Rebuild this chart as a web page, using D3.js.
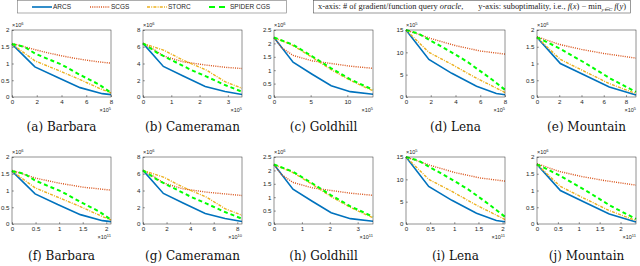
<!DOCTYPE html>
<html>
<head>
<meta charset="utf-8">
<script src="https://cdn.jsdelivr.net/npm/d3@7"></script>
<style>
  html, body { margin: 0; padding: 0; background: #fff; }
  svg { display: block; }
  .tick text { font-family: "Liberation Sans", Arial, sans-serif; font-size: 6.2px; fill: #262626; }
  .tick line { stroke: #262626; stroke-width: 0.5; }
</style>
</head>
<body>
<div id="chart"></div>
<script>
// panel order: Barbara, Cameraman, Goldhill, Lena, Mountain (iterations), then the same five (oracle calls)
const captions = ['(a) Barbara', '(b) Cameraman', '(c) Goldhill', '(d) Lena', '(e) Mountain',
                  '(f) Barbara', '(g) Cameraman', '(h) Goldhill', '(i) Lena', '(j) Mountain'];
const xMax = [8, 3.5, 13.5, 8, 8.9, 2.1, 8.4, 3.55, 2.05, 2.37];
const xTicks = [[0, 2, 4, 6, 8], [0, 1, 2, 3], [0, 5, 10], [0, 2, 4, 6, 8], [0, 2, 4, 6, 8],
                [0, 0.5, 1, 1.5, 2], [0, 2, 4, 6, 8], [0, 1, 2, 3], [0, 0.5, 1, 1.5, 2], [0, 0.5, 1, 1.5, 2]];
const xExp = [5, 5, 5, 5, 5, 11, 10, 11, 11, 11];
const yMax = [2, 8, 2.5, 15, 2, 2, 8, 2.5, 15, 2];
const yTicks = [[0, 0.5, 1, 1.5, 2], [0, 2, 4, 6, 8], [0, 0.5, 1, 1.5, 2, 2.5], [0, 5, 10, 15], [0, 0.5, 1, 1.5, 2],
                [0, 0.5, 1, 1.5, 2], [0, 2, 4, 6, 8], [0, 0.5, 1, 1.5, 2, 2.5], [0, 5, 10, 15], [0, 0.5, 1, 1.5, 2]];
const yExp = [6, 6, 6, 5, 6, 6, 6, 6, 5, 6];

const seriesNames = ['ARCS', 'SCGS', 'STORC', 'SPIDER CGS'];

const ARCS = [
  [[0, 1.58], [1.85, 0.9], [3.7, 0.58], [5.5, 0.28], [7.3, 0.1], [8, 0.07]],
  [[0, 6.4], [0.72, 3.65], [1.42, 2.5], [2.2, 1.25], [2.9, 0.65], [3.5, 0.3]],
  [[0, 2.22], [2.6, 1.3], [5.2, 0.85], [7.8, 0.42], [10.4, 0.2], [13.5, 0.1]],
  [[0, 15], [1.85, 8.4], [3.7, 5.3], [5.7, 2.4], [7.3, 0.8], [8, 0.5]],
  [[0, 1.78], [2.1, 1.0], [4.3, 0.65], [6.5, 0.3], [8.9, 0.06]],
  [[0, 1.58], [0.49, 0.9], [0.97, 0.58], [1.45, 0.28], [1.92, 0.1], [2.1, 0.07]],
  [[0, 6.4], [1.73, 3.65], [3.4, 2.5], [5.28, 1.25], [6.96, 0.65], [8.4, 0.3]],
  [[0, 2.22], [0.68, 1.3], [1.37, 0.85], [2.05, 0.42], [2.74, 0.2], [3.55, 0.1]],
  [[0, 15], [0.47, 8.4], [0.95, 5.3], [1.46, 2.4], [1.87, 0.8], [2.05, 0.5]],
  [[0, 1.78], [0.56, 1.0], [1.14, 0.65], [1.73, 0.3], [2.37, 0.06]]
];
const SCGS = [
  [[0, 1.6], [1, 1.5], [2, 1.4], [3, 1.31], [4, 1.23], [5, 1.16], [6, 1.1], [7, 1.05], [8, 1.01]],
  [[0, 6.4], [0.42, 5.6], [0.72, 4.9], [1.42, 4.2], [2.25, 3.8], [2.9, 3.55], [3.5, 3.4]],
  [[0, 2.22], [1, 1.85], [2.6, 1.55], [5.2, 1.35], [7.8, 1.25], [10.4, 1.15], [13.5, 1.07]],
  [[0, 15], [2, 13.1], [4, 11.5], [6, 10.3], [8, 9.6]],
  [[0, 1.8], [2, 1.57], [4, 1.42], [6, 1.3], [8.9, 1.16]],
  [[0, 1.6], [0.5, 1.37], [1, 1.22], [1.5, 1.1], [2.1, 1.01]],
  [[0, 6.4], [1.0, 5.6], [1.73, 4.9], [3.4, 4.2], [5.4, 3.8], [8.4, 3.4]],
  [[0, 2.22], [0.26, 1.85], [0.68, 1.55], [1.37, 1.35], [2.05, 1.25], [2.74, 1.15], [3.55, 1.07]],
  [[0, 15], [0.51, 13.1], [1.02, 11.5], [1.54, 10.3], [2.05, 9.6]],
  [[0, 1.8], [0.53, 1.57], [1.06, 1.42], [1.6, 1.3], [2.37, 1.16]]
];
const STORC = [
  [[0, 1.58], [1.85, 1.08], [3.7, 0.8], [5.5, 0.52], [7.3, 0.22], [8, 0.12]],
  [[0, 6.4], [0.72, 5.6], [1.42, 4.4], [2.25, 3.2], [2.9, 1.83], [3.5, 1.04]],
  [[0, 2.22], [2.6, 1.92], [5.2, 1.48], [7.8, 1.02], [10.4, 0.62], [13.5, 0.23]],
  [[0, 15], [1.85, 10.0], [3.7, 7.3], [5.7, 4.2], [7.3, 2.0], [8, 1.0]],
  [[0, 1.78], [2.1, 1.12], [4.3, 0.76], [6.5, 0.4], [8.9, 0.1]],
  [[0, 1.58], [0.49, 1.08], [0.97, 0.8], [1.45, 0.52], [1.92, 0.22], [2.1, 0.12]],
  [[0, 6.4], [1.73, 5.6], [3.4, 4.4], [5.4, 3.2], [6.96, 1.83], [8.4, 1.04]],
  [[0, 2.22], [0.68, 1.92], [1.37, 1.48], [2.05, 1.02], [2.74, 0.62], [3.55, 0.23]],
  [[0, 15], [0.47, 10.0], [0.95, 7.3], [1.46, 4.2], [1.87, 2.0], [2.05, 1.0]],
  [[0, 1.78], [0.56, 1.12], [1.14, 0.76], [1.73, 0.4], [2.37, 0.1]]
];
const SPIDER = [
  [[0, 1.58], [1, 1.5], [1.85, 1.3], [3, 1.12], [4, 0.97], [5.5, 0.66], [7, 0.38], [8, 0.13]],
  [[0, 6.4], [0.54, 5.2], [1.72, 3.2], [2.25, 2.43], [2.9, 1.43], [3.5, 0.63]],
  [[0, 2.22], [2.6, 1.95], [5.2, 1.52], [7.8, 1.07], [10.4, 0.66], [13.5, 0.27]],
  [[0, 15], [1, 14.2], [2, 12.6], [3, 11.1], [4, 9.5], [5, 7.8], [6, 5.8], [7, 3.8], [8, 1.6]],
  [[0, 1.78], [1, 1.62], [2.2, 1.42], [4.4, 1.0], [6.6, 0.55], [8.9, 0.15]],
  [[0, 1.58], [0.26, 1.5], [0.49, 1.3], [0.79, 1.12], [1.05, 0.97], [1.45, 0.66], [1.84, 0.38], [2.1, 0.13]],
  [[0, 6.4], [1.3, 5.2], [4.13, 3.2], [5.4, 2.43], [6.96, 1.43], [8.4, 0.63]],
  [[0, 2.22], [0.68, 1.95], [1.37, 1.52], [2.05, 1.07], [2.74, 0.66], [3.55, 0.27]],
  [[0, 15], [0.26, 14.2], [0.51, 12.6], [0.77, 11.1], [1.02, 9.5], [1.28, 7.8], [1.54, 5.8], [1.79, 3.8], [2.05, 1.6]],
  [[0, 1.78], [0.27, 1.62], [0.58, 1.42], [1.17, 1.0], [1.75, 0.55], [2.37, 0.15]]
];

const W = 640, H = 266;
const panelLeft = [12, 143, 274, 406, 537];
const rowTop = [30, 157];
const captionY = [131, 260];
const pw = 99, ph = 67;

const styles = [
  { color: '#0072BD', width: 1.6, dash: null },
  { color: '#D95319', width: 1.4, dash: '1,1.2' },
  { color: '#EDB120', width: 1.4, dash: '3,1.2,1,1.2' },
  { color: '#00FF00', width: 2, dash: '4,3' }
];
const allSeries = [ARCS, SCGS, STORC, SPIDER];

const svg = d3.select('#chart').append('svg')
  .attr('width', W)
  .attr('height', H)
  .attr('viewBox', `0 0 ${W} ${H}`);

captions.forEach((cap, i) => {
  const row = Math.floor(i / 5), col = i % 5;
  const g = svg.append('g')
    .attr('transform', `translate(${panelLeft[col]}, ${rowTop[row]})`);

  const x = d3.scaleLinear().domain([0, xMax[i]]).range([0, pw]);
  const y = d3.scaleLinear().domain([0, yMax[i]]).range([ph, 0]);

  // axes, ticks pointing inward like MATLAB
  g.append('g')
    .attr('transform', `translate(0, ${ph})`)
    .call(d3.axisBottom(x).tickValues(xTicks[i]).tickSize(-1.8).tickPadding(2.5).tickFormat(d3.format('~g')))
    .call(a => a.select('.domain').remove());
  g.append('g')
    .call(d3.axisLeft(y).tickValues(yTicks[i]).tickSize(-1.8).tickPadding(2.5).tickFormat(d3.format('~g')))
    .call(a => a.select('.domain').remove());

  // lines
  const line = d3.line().x(d => x(d[0])).y(d => y(d[1]));
  allSeries.forEach((s, k) => {
    g.append('path')
      .datum(s[i])
      .attr('fill', 'none')
      .attr('stroke', styles[k].color)
      .attr('stroke-width', styles[k].width)
      .attr('stroke-dasharray', styles[k].dash)
      .attr('d', line);
  });

  // box
  g.append('rect')
    .attr('width', pw)
    .attr('height', ph)
    .attr('fill', 'none')
    .attr('stroke', '#262626')
    .attr('stroke-width', 0.5);

  // exponent labels
  const ye = g.append('text')
    .attr('x', 0)
    .attr('y', -3)
    .attr('font-family', '"Liberation Sans", Arial, sans-serif')
    .attr('font-size', 5.5)
    .attr('fill', '#262626')
    .text('×10');
  ye.append('tspan').attr('dy', -2).attr('font-size', 4).text(yExp[i]);

  const xe = g.append('text')
    .attr('x', pw)
    .attr('y', ph + 15)
    .attr('text-anchor', 'end')
    .attr('font-family', '"Liberation Sans", Arial, sans-serif')
    .attr('font-size', 5.5)
    .attr('fill', '#262626')
    .text('×10');
  xe.append('tspan').attr('dy', -2).attr('font-size', 4).text(xExp[i]);

  // caption
  svg.append('text')
    .attr('x', panelLeft[col] + pw / 2)
    .attr('y', captionY[row])
    .attr('text-anchor', 'middle')
    .attr('font-family', '"DejaVu Serif", serif')
    .attr('font-size', 12)
    .attr('fill', '#111')
    .text(cap);
});

// legend
const legend = svg.append('g');
legend.append('rect')
  .attr('x', 17.5).attr('y', 0.5).attr('width', 269).attr('height', 12.5)
  .attr('fill', '#fff').attr('stroke', '#777').attr('stroke-width', 0.6);
const legX = [32, 90, 147, 209];
seriesNames.forEach((name, k) => {
  legend.append('line')
    .attr('x1', legX[k]).attr('x2', legX[k] + 20)
    .attr('y1', 7).attr('y2', 7)
    .attr('stroke', styles[k].color)
    .attr('stroke-width', styles[k].width)
    .attr('stroke-dasharray', k === 3 ? '6,4' : styles[k].dash);
  legend.append('text')
    .attr('x', legX[k] + 21)
    .attr('y', 9.3)
    .attr('font-family', '"Liberation Sans", Arial, sans-serif')
    .attr('font-size', 6.5)
    .attr('fill', '#262626')
    .text(name);
});

// axis description box
const note = svg.append('g');
note.append('rect')
  .attr('x', 313.5).attr('y', 0.5).attr('width', 317).attr('height', 12.5)
  .attr('fill', '#fff').attr('stroke', '#555').attr('stroke-width', 0.6);
const nt = note.append('text')
  .attr('x', 318)
  .attr('y', 9.2)
  .attr('font-family', '"Liberation Serif", "Times New Roman", serif')
  .attr('font-size', 7.5)
  .attr('fill', '#222')
  .attr('textLength', 308)
  .attr('lengthAdjust', 'spacingAndGlyphs');
nt.append('tspan').text('x-axis: # of gradient/function query ');
nt.append('tspan').attr('font-style', 'italic').text('oracle');
nt.append('tspan').attr('xml:space', 'preserve').text(',       y-axis: suboptimality, i.e., ');
nt.append('tspan').attr('font-style', 'italic').text('f');
nt.append('tspan').text('(');
nt.append('tspan').attr('font-style', 'italic').text('x');
nt.append('tspan').text(') − min');
nt.append('tspan').attr('font-style', 'italic').attr('font-size', 5).attr('dy', 1.5).text('y∈C');
nt.append('tspan').attr('font-style', 'italic').attr('dy', -1.5).text(' f');
nt.append('tspan').text('(');
nt.append('tspan').attr('font-style', 'italic').text('y');
nt.append('tspan').text(')');
</script>
</body>
</html>
